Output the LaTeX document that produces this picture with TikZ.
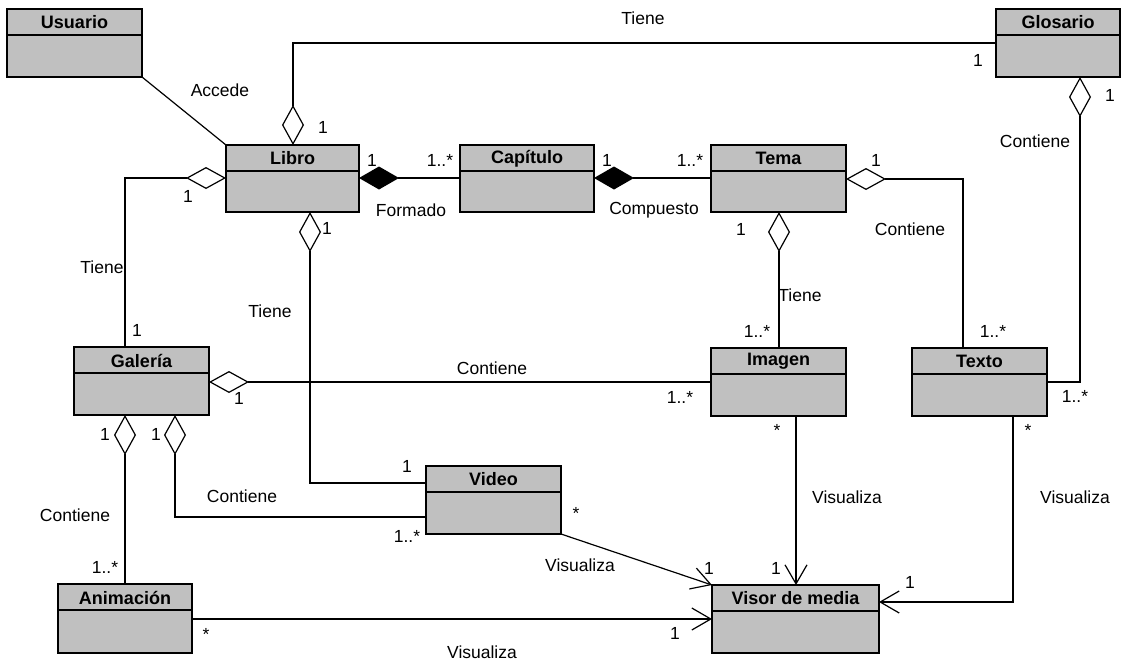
\documentclass[tikz,border=0pt]{standalone}
\usepackage{fontspec}
\setmainfont{Liberation Sans}
\usetikzlibrary{arrows.meta,calc}
\definecolor{boxgray}{RGB}{192,192,192}
\tikzset{
 box/.style={draw=black, fill=boxgray, line width=1.4pt, inner sep=0pt, outer sep=0pt, anchor=north west},
 ttl/.style={font=\fontsize{18}{20}\selectfont\bfseries, inner sep=0pt},
 lbl/.style={font=\fontsize{17.5}{20}\selectfont, inner sep=0pt},
 conn/.style={draw=black, line width=1.2pt, line join=miter},
 agg/.style={conn, {Diamond[open, length=40pt, width=22pt, fill=white]}-},
 comp/.style={conn, {Diamond[length=40pt, width=23pt]}-},
 nav/.style={conn, -{Straight Barb[length=19pt, width=22pt]}},
}
\newcommand\umlclass[6]{%
 \node[box, minimum width=#4, minimum height=#5] (#1) at (#2,#3) {};
 \draw[line width=1.4pt] ($(#1.north west)+(0,26)$) -- ($(#1.north east)+(0,26)$);
 \node[ttl] (#1-t) at ($(#1.north)+(0,13.5)$) {#6};
}
\begin{document}
\begin{tikzpicture}[x=1pt,y=-1pt]
\useasboundingbox[fill=white] (0,0) rectangle (1124,662);
% classes
\umlclass{usuario}{7}{9}{135}{68}{Usuario}
\umlclass{libro}{226}{145}{133}{67}{Libro}
\umlclass{capitulo}{460}{145}{134}{67}{Capítulo}
\umlclass{tema}{711}{145}{135}{67}{Tema}
\umlclass{glosario}{996}{9}{124}{68}{Glosario}
\umlclass{galeria}{74}{347}{135}{68}{Galería}
\umlclass{imagen}{711}{348}{135}{68}{Imagen}
\umlclass{texto}{912}{348}{135}{68}{Texto}
\umlclass{video}{426}{466}{135}{68}{Video}
\umlclass{animacion}{58}{584}{134}{69}{Animación}
\umlclass{visor}{712}{585}{167}{68}{Visor de media}
% connectors
\draw[conn] (usuario.south east) -- (libro.north west);
\draw[agg] ([xshift=67pt]libro.north west) |- ([yshift=-34pt]glosario.north west);
\draw[comp] ([yshift=-33pt]libro.north east) -- ([yshift=-33pt]capitulo.north west);
\draw[comp] ([yshift=-33pt]capitulo.north east) -- ([yshift=-33pt]tema.north west);
\draw[agg] ([yshift=-33pt]libro.north west) -| ([xshift=51pt]galeria.north west);
\draw[agg] ([xshift=84pt]libro.south west) |- ([yshift=-17pt]video.north west);
\draw[agg] ([xshift=68pt]tema.south west) -- ([xshift=68pt]imagen.north west);
\draw[agg] ([yshift=-34pt]tema.north east) -| ([xshift=51pt]texto.north west);
\draw[agg] ([xshift=84pt]glosario.south west) |- ([yshift=-34pt]texto.north east);
\draw[agg] ([yshift=-35pt]galeria.north east) -- ([yshift=-34pt]imagen.north west);
\draw[agg] ([xshift=51pt]galeria.south west) -- ([xshift=67pt]animacion.north west);
\draw[agg] ([xshift=101pt]galeria.south west) |- ([yshift=-51pt]video.north west);
\draw[nav] (video.south east) -- (visor.north west);
\draw[nav] ([xshift=85pt]imagen.south west) -- ([xshift=84pt]visor.north west);
\draw[nav] ([xshift=101pt]texto.south west) |- ([yshift=-17pt]visor.north east);
\draw[nav] ([yshift=-35pt]animacion.north east) -- ([yshift=-34pt]visor.north west);
% labels
\node[lbl] (l1) at (220,90) {Accede};
\node[lbl] (l2) at (643,18) {Tiene};
\node[lbl] (l3) at (978,60) {1};
\node[lbl] (l4) at (323,127) {1};
\node[lbl] (l5) at (372,160) {1};
\node[lbl] (l6) at (440,160) {1..*};
\node[lbl] (l7) at (411,210) {Formado};
\node[lbl] (l8) at (607,160) {1};
\node[lbl] (l9) at (690,160) {1..*};
\node[lbl] (l10) at (654,210) {Compuesto};
\node[lbl] (l11) at (876,160) {1};
\node[lbl] (l12) at (188,196) {1};
\node[lbl] (l13) at (102,267) {Tiene};
\node[lbl] (l14) at (137,330) {1};
\node[lbl] (l15) at (327,228) {1};
\node[lbl] (l16) at (270,311) {Tiene};
\node[lbl] (l17) at (741,229) {1};
\node[lbl] (l18) at (800,295) {Tiene};
\node[lbl] (l19) at (757,331) {1..*};
\node[lbl] (l20) at (910,229) {Contiene};
\node[lbl] (l21) at (993,331) {1..*};
\node[lbl] (l22) at (1110,95) {1};
\node[lbl] (l23) at (1035,141) {Contiene};
\node[lbl] (l24) at (1075,396) {1..*};
\node[lbl] (l25) at (492,368) {Contiene};
\node[lbl] (l26) at (239,398) {1};
\node[lbl] (l27) at (680,397) {1..*};
\node[lbl] (l28) at (105,434) {1};
\node[lbl] (l29) at (156,434) {1};
\node[lbl] (l30) at (75,515) {Contiene};
\node[lbl] (l31) at (105,567) {1..*};
\node[lbl] (l32) at (242,496) {Contiene};
\node[lbl] (l33) at (407,466) {1};
\node[lbl] (l34) at (407,536) {1..*};
\node[lbl] (l35) at (576,513) {*};
\node[lbl] (l36) at (580,565) {Visualiza};
\node[lbl] (l37) at (709,568) {1};
\node[lbl] (l38) at (776,568) {1};
\node[lbl] (l39) at (847,497) {Visualiza};
\node[lbl] (l40) at (777,430) {*};
\node[lbl] (l41) at (1028,430) {*};
\node[lbl] (l42) at (1075,497) {Visualiza};
\node[lbl] (l43) at (910,582) {1};
\node[lbl] (l44) at (206,634) {*};
\node[lbl] (l45) at (482,652) {Visualiza};
\node[lbl] (l46) at (675,633) {1};
\end{tikzpicture}
\end{document}
